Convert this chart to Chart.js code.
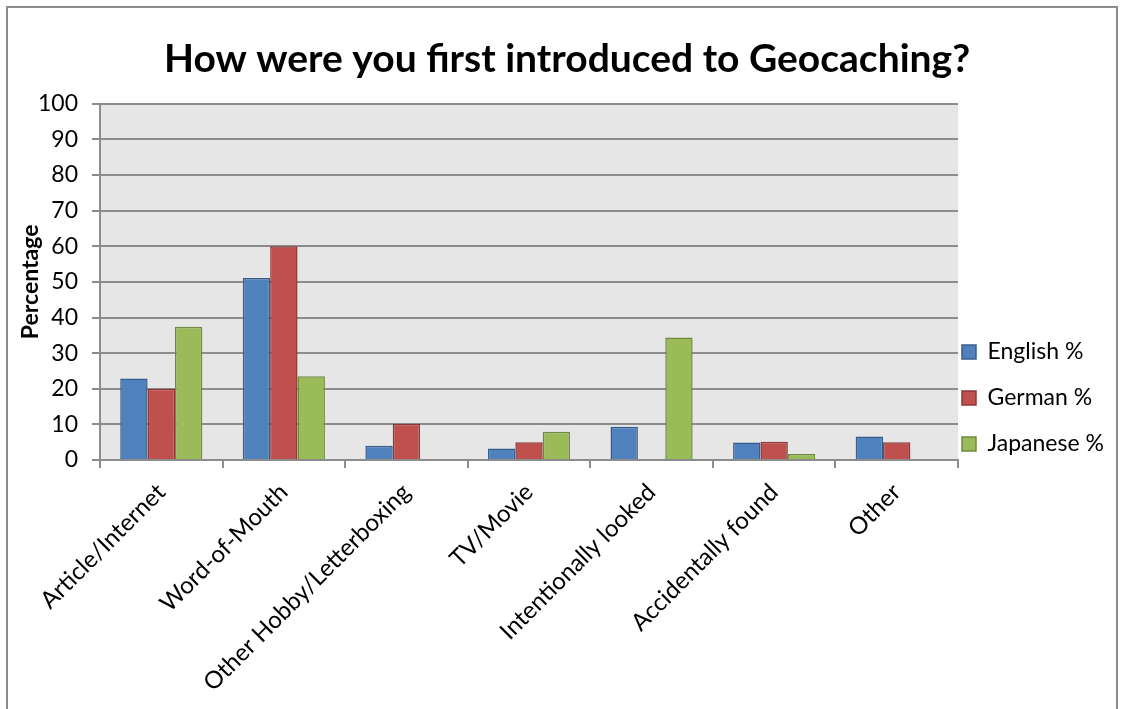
<!DOCTYPE html>
<html>
<head>
<meta charset="utf-8">
<script src="https://cdn.jsdelivr.net/npm/chart.js@4/dist/chart.umd.min.js"></script>
<style>
  html, body { margin: 0; padding: 0; background: #ffffff; }
  canvas { display: block; }
</style>
</head>
<body>
<canvas id="c" width="1124" height="709"></canvas>
<script>
const categories = ["Article/Internet", "Word-of-Mouth", "Other Hobby/Letterboxing", "TV/Movie", "Intentionally looked", "Accidentally found", "Other"];
const englishPct  = [22.9, 51.1, 4.0, 3.2, 9.3, 4.9, 6.6];
const germanPct   = [20.0, 60.0, 10.1, 5.0, null, 5.1, 5.0];
const japanesePct = [37.4, 23.5, null, 7.9, 34.4, 1.7, null];
const seriesNames = ["English %", "German %", "Japanese %"];
const yTicks = [0, 10, 20, 30, 40, 50, 60, 70, 80, 90, 100];

const FONT = "Lato";
const GRID = "#8c8c8c";

const decor = {
  id: "decor",
  afterInit(chart) {
    const lg = chart.legend;
    if (lg && !lg._wrapped) {
      const orig = lg.fit.bind(lg);
      lg.fit = function () { orig(); this.width = 166; };
      lg._wrapped = true;
    }
  },
  afterLayout(chart) {
    const lg = chart.legend;
    const pad = lg.options.labels.padding;
    const fs = lg.options.labels.font.size;
    lg.left = chart.chartArea.right + 4 - pad;
    lg.right = lg.left + lg.width;
    const h = lg.bottom - lg.top;
    lg.top = 352 - fs / 2 - pad;
    lg.bottom = lg.top + h;
  },
  beforeDraw(chart) {
    const ctx = chart.ctx;
    const a = chart.chartArea;
    ctx.save();
    ctx.fillStyle = "#ffffff";
    ctx.fillRect(0, 0, chart.width, chart.height);
    ctx.strokeStyle = "#8c8c8c";
    ctx.lineWidth = 2;
    ctx.strokeRect(7, 7, 1110, 740);
    ctx.fillStyle = "#e6e6e6";
    ctx.fillRect(a.left, a.top, a.right - a.left, a.bottom - a.top);
    ctx.restore();
  }
};

new Chart(document.getElementById("c"), {
  type: "bar",
  data: {
    labels: categories,
    datasets: [
      { label: seriesNames[0], data: englishPct, backgroundColor: "#4f81bd", borderColor: "#385d8a", borderWidth: 1.5 },
      { label: seriesNames[1], data: germanPct, backgroundColor: "#c0504d", borderColor: "#8c3836", borderWidth: 1.5 },
      { label: seriesNames[2], data: japanesePct, backgroundColor: "#9bbb59", borderColor: "#71893f", borderWidth: 1.5 }
    ]
  },
  options: {
    responsive: false,
    animation: false,
    layout: { padding: { top: 10, left: 10, right: 0, bottom: 0 } },
    datasets: { bar: { categoryPercentage: 0.67, barPercentage: 1.0 } },
    plugins: {
      title: {
        display: true,
        text: "How were you first introduced to Geocaching?",
        color: "#000",
        font: { family: FONT, size: 39, weight: "bold" },
        padding: { top: 26, bottom: 21 }
      },
      legend: {
        position: "right",
        align: "start",
        labels: {
          color: "#000",
          font: { family: FONT, size: 23 },
          boxWidth: 14,
          boxHeight: 14,
          padding: 23
        }
      },
      tooltip: { enabled: false }
    },
    scales: {
      x: {
        grid: { offset: true, drawOnChartArea: false, drawTicks: true, tickLength: 8, color: GRID, lineWidth: 2 },
        border: { color: GRID, width: 2 },
        ticks: { color: "#000", font: { family: FONT, size: 24 }, maxRotation: 45, minRotation: 45, autoSkip: false, padding: 10 },
        afterFit(s) { s.height = 249; }
      },
      y: {
        min: 0,
        max: 100,
        afterBuildTicks(s) { s.ticks = yTicks.map(v => ({ value: v })); },
        grid: { color: GRID, lineWidth: 2, tickLength: 8, drawTicks: true },
        border: { color: GRID, width: 2 },
        ticks: { color: "#000", font: { family: FONT, size: 23 }, padding: 14 },
        title: { display: true, text: "Percentage", color: "#000", font: { family: FONT, size: 23, weight: "bold" }, padding: { top: 7, bottom: 0 } },
        afterFit(s) { s.width = 90; }
      }
    }
  },
  plugins: [decor]
});
</script>
</body>
</html>
